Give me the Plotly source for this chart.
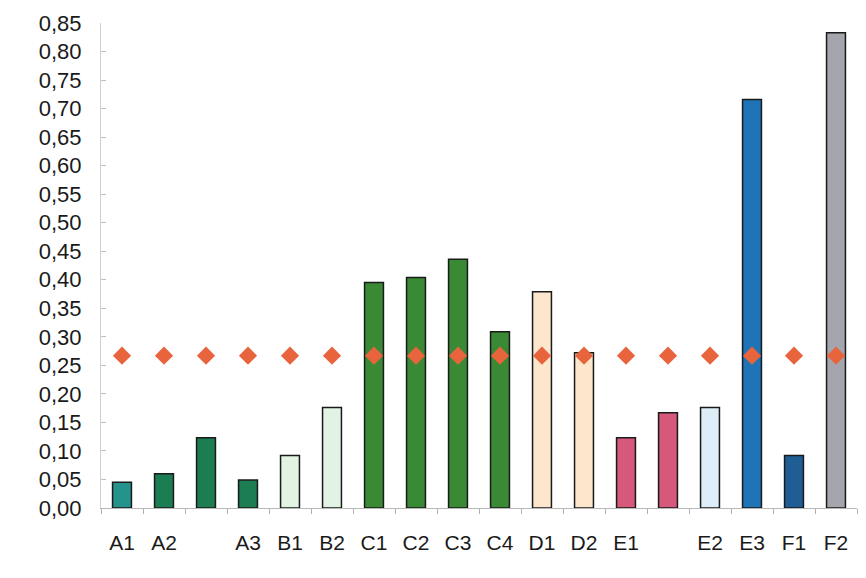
import plotly.graph_objects as go

# categories (two unlabeled bars sit between A2/A3 and E1/E2)
categories = ["A1", "A2", "", "A3", "B1", "B2", "C1", "C2", "C3", "C4",
              "D1", "D2", "E1", "", "E2", "E3", "F1", "F2"]
values = [0.045, 0.060, 0.123, 0.049, 0.092, 0.176, 0.395, 0.404, 0.436, 0.309,
          0.379, 0.272, 0.123, 0.167, 0.176, 0.716, 0.092, 0.833]
reference = [0.267] * len(categories)
bar_colors = ["#23938C", "#1D7D52", "#1D7D52", "#1D7D52", "#E2F3E4", "#E2F3E4",
              "#3A8A35", "#3A8A35", "#3A8A35", "#3A8A35", "#FCE7CC", "#FCE7CC",
              "#D6587A", "#D6587A", "#DDEEF8", "#1F74B5", "#1F5E95", "#A5A5AD"]

x_pos = list(range(len(categories)))
font_family = "Liberation Sans, Arial, sans-serif"

fig = go.Figure()

fig.add_trace(
    go.Bar(
        x=x_pos,
        y=values,
        width=0.45,
        marker=dict(color=bar_colors, line=dict(color="#1a1a1a", width=1.5)),
        showlegend=False,
    )
)

fig.add_trace(
    go.Scatter(
        x=x_pos,
        y=reference,
        mode="markers",
        marker=dict(symbol="diamond", size=14, color="#E8643C"),
        showlegend=False,
    )
)

fig.update_xaxes(
    range=[-0.5, len(categories) - 0.5],
    tickmode="array",
    tickvals=x_pos,
    ticktext=categories,
    ticks="",
    ticklabelstandoff=16,
    showline=True,
    linecolor="#b8b8b8",
    linewidth=1,
    showgrid=False,
    zeroline=False,
    automargin=False,
    minor=dict(ticks="outside", tick0=-0.5, dtick=1, ticklen=5, tickcolor="#b0b0b0"),
    tickfont=dict(size=21, color="#1a1a1a", family=font_family),
)
fig.update_yaxes(
    range=[0, 0.85],
    tick0=0,
    dtick=0.05,
    tickformat=".2f",
    ticks="inside",
    ticklen=5,
    tickcolor="#c0c0c0",
    ticklabelstandoff=14,
    showline=True,
    linecolor="#d0d0d0",
    linewidth=1,
    showgrid=False,
    zeroline=False,
    automargin=False,
    tickfont=dict(size=22, color="#1a1a1a", family=font_family),
)

fig.update_layout(
    width=866,
    height=578,
    margin=dict(l=93, r=17, t=15, b=78),
    separators=",.",
    plot_bgcolor="white",
    paper_bgcolor="white",
    font=dict(family=font_family),
)

fig.write_html("out.html")
